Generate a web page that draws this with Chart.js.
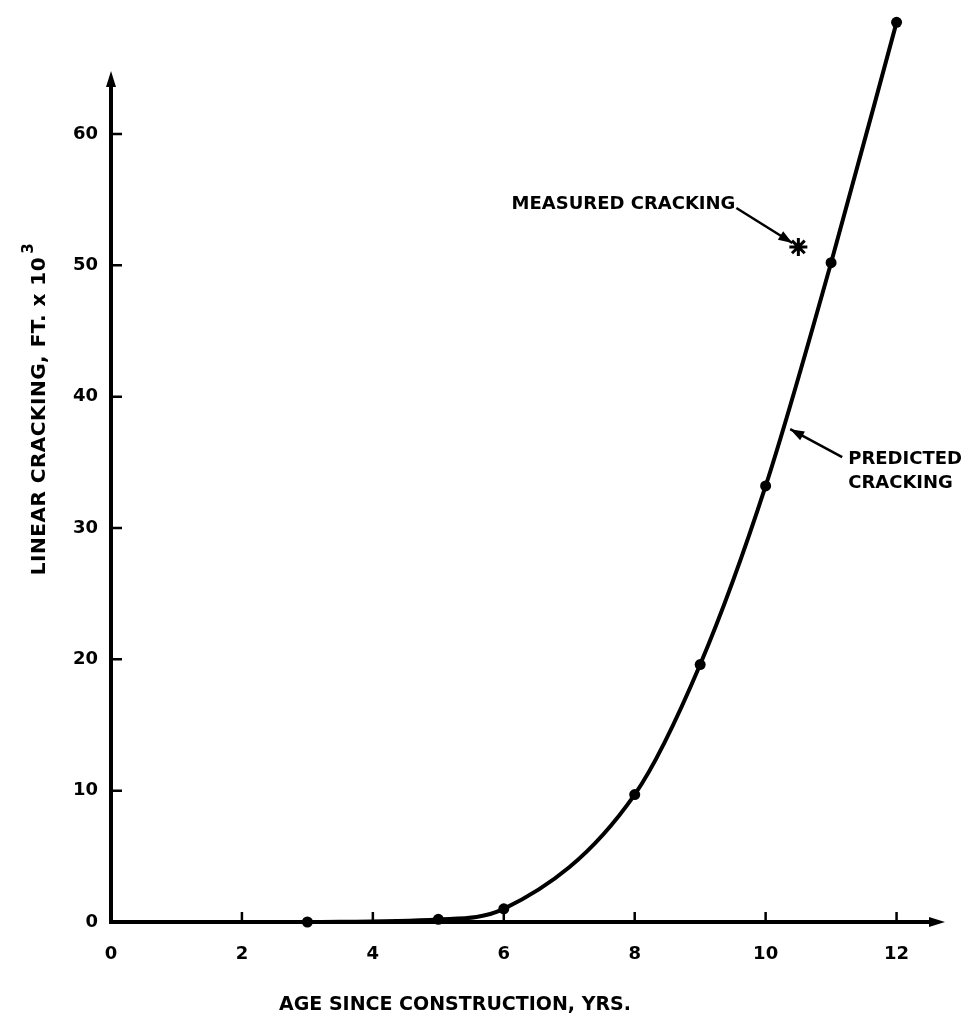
<!DOCTYPE html>
<html>
<head>
<meta charset="utf-8">
<script src="https://cdn.jsdelivr.net/npm/chart.js@4"></script>
<style>
  body { margin: 0; background: #fff; }
  canvas { display: block; }
</style>
</head>
<body>
<canvas id="chart" width="974" height="1026"></canvas>
<script>
// values
const years = [3, 5, 6, 8, 9, 10, 11, 12];
const predicted = [0, 0.2, 1.0, 9.7, 19.6, 33.2, 50.2, 68.5];
const measuredYear = [10.5];
const measuredCracking = [51.4];
const xTicks = [0, 2, 4, 6, 8, 10, 12];
const yTicks = [0, 10, 20, 30, 40, 50, 60];

const ink = "#000";
const family = "'DejaVu Sans', Verdana, sans-serif";
const labelFont = "bold 18px " + family;
const axisTopValue = 64.8;   // where the y axis arrow ends

function arrowHead(ctx, x1, y1, x2, y2, len, half) {
    const a = Math.atan2(y2 - y1, x2 - x1);
    ctx.beginPath();
    ctx.moveTo(x2, y2);
    ctx.lineTo(x2 - len * Math.cos(a) + half * Math.sin(a), y2 - len * Math.sin(a) - half * Math.cos(a));
    ctx.lineTo(x2 - len * Math.cos(a) - half * Math.sin(a), y2 - len * Math.sin(a) + half * Math.cos(a));
    ctx.closePath();
    ctx.fill();
}

function arrow(ctx, x1, y1, x2, y2) {
    ctx.lineWidth = 2.5;
    ctx.beginPath();
    ctx.moveTo(x1, y1);
    ctx.lineTo(x2, y2);
    ctx.stroke();
    arrowHead(ctx, x1, y1, x2, y2, 14, 5);
}

const axesPlugin = {
    id: "axesPlugin",
    beforeDatasetsDraw(chart) {
        const ctx = chart.ctx;
        const xs = chart.scales.x, ys = chart.scales.y;
        const a = chart.chartArea;
        const x0 = xs.getPixelForValue(0);
        const y0 = ys.getPixelForValue(0);
        const yTop = ys.getPixelForValue(axisTopValue);
        ctx.save();
        ctx.strokeStyle = ink;
        ctx.fillStyle = ink;
        ctx.lineCap = "butt";

        // axes with arrows
        ctx.lineWidth = 4;
        ctx.beginPath();
        ctx.moveTo(x0, y0 + 2);
        ctx.lineTo(x0, yTop + 10);
        ctx.moveTo(x0 - 2, y0);
        ctx.lineTo(a.right - 10, y0);
        ctx.stroke();
        arrowHead(ctx, x0, y0, x0, yTop, 16, 5);
        arrowHead(ctx, x0, y0, a.right, y0, 16, 5);

        // inside tick marks
        ctx.lineWidth = 2.5;
        ctx.beginPath();
        xTicks.forEach(v => {
            if (v === 0) return;
            const px = xs.getPixelForValue(v);
            ctx.moveTo(px, y0);
            ctx.lineTo(px, y0 - 10);
        });
        yTicks.forEach(v => {
            if (v === 0) return;
            const py = ys.getPixelForValue(v);
            ctx.moveTo(x0, py);
            ctx.lineTo(x0 + 11, py);
        });
        ctx.stroke();

        // axis titles
        ctx.font = "bold 19px " + family;
        ctx.textBaseline = "middle";
        ctx.textAlign = "center";
        ctx.fillText("AGE SINCE CONSTRUCTION, YRS.", 455, 1005);

        ctx.save();
        ctx.translate(40, 410);
        ctx.rotate(-Math.PI / 2);
        ctx.font = "bold 20px " + family;
        ctx.letterSpacing = "0.5px";
        const main = "LINEAR CRACKING, FT. x 10";
        const w = ctx.measureText(main).width;
        ctx.textAlign = "left";
        ctx.fillText(main, -w / 2 - 6, 0);
        ctx.font = "bold 15px " + family;
        ctx.fillText("3", w / 2 - 3, -11);
        ctx.restore();

        // annotations
        ctx.font = labelFont;
        ctx.textAlign = "right";
        const mx = xs.getPixelForValue(measuredYear[0]);
        const my = ys.getPixelForValue(measuredCracking[0]);
        ctx.fillText("MEASURED CRACKING", mx - 63, my - 43);
        arrow(ctx, mx - 62, my - 39, mx - 6, my - 4);

        ctx.textAlign = "left";
        const tipX = xs.getPixelForValue(10.36), tipY = ys.getPixelForValue(37.6);
        ctx.fillText("PREDICTED", tipX + 59, tipY + 31);
        ctx.fillText("CRACKING", tipX + 59, tipY + 55);
        arrow(ctx, tipX + 53, tipY + 29, tipX + 1, tipY + 1);
        ctx.restore();
    }
};

new Chart(document.getElementById("chart").getContext("2d"), {
    type: "scatter",
    data: {
        datasets: [
            {
                label: "Predicted cracking",
                data: years.map((x, i) => ({ x: x, y: predicted[i] })),
                showLine: true,
                borderColor: ink,
                backgroundColor: ink,
                borderWidth: 4,
                pointRadius: 5.5,
                pointBorderWidth: 0,
                cubicInterpolationMode: "monotone",
                clip: false
            },
            {
                label: "Measured cracking",
                data: measuredYear.map((x, i) => ({ x: x, y: measuredCracking[i] })),
                pointStyle: "star",
                pointRadius: 9,
                borderColor: ink,
                borderWidth: 3,
                backgroundColor: ink,
                clip: false
            }
        ]
    },
    options: {
        responsive: false,
        devicePixelRatio: 1,
        animation: false,
        layout: { padding: { left: 0, top: 8, right: 29, bottom: 0 } },
        plugins: { legend: { display: false }, tooltip: { enabled: false } },
        scales: {
            x: {
                type: "linear",
                min: 0,
                max: 12.74,
                grid: { display: false },
                border: { display: false },
                afterFit: s => { s.height = 104; },
                afterBuildTicks: s => { s.ticks = xTicks.map(v => ({ value: v })); },
                ticks: {
                    color: ink,
                    padding: 14,
                    maxRotation: 0,
                    font: { family: family, size: 18, weight: "bold" }
                }
            },
            y: {
                type: "linear",
                min: 0,
                max: 69.0,
                grid: { display: false },
                border: { display: false },
                afterFit: s => { s.width = 111; },
                afterBuildTicks: s => { s.ticks = yTicks.map(v => ({ value: v })); },
                ticks: {
                    color: ink,
                    padding: 5,
                    font: { family: family, size: 18, weight: "bold" }
                }
            }
        }
    },
    plugins: [axesPlugin]
});
</script>
</body>
</html>
